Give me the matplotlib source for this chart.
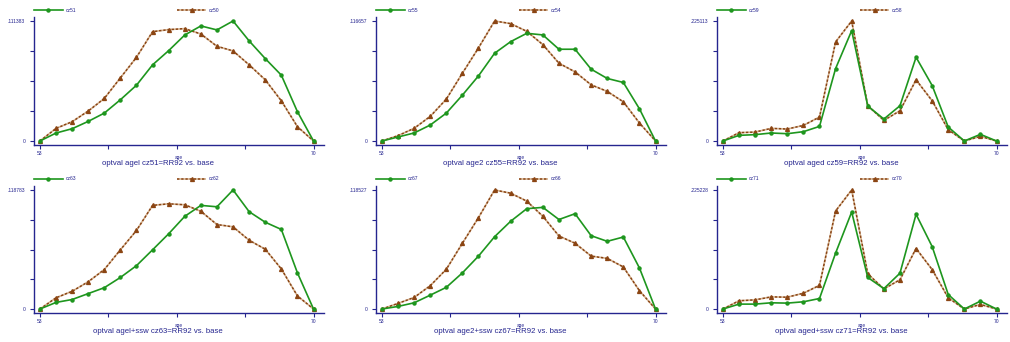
import matplotlib.pyplot as plt

ages = list(range(53, 71))

cz51 = [0, .0074, .0114, .0182, .0259, .0383, .0518, .0707, .0839, .0984, .1068, .1031, .111383, .0929, .0765, .0611, .0272, 0]
cz50 = [0, .0117, .0179, .0278, .0395, .0586, .0777, .1015, .1034, .1043, .0993, .0879, .0836, .0707, .0568, .0373, .0133, 0]
cz55 = [0, .0039, .0078, .0155, .0271, .0446, .0633, .0853, .0966, .1047, .1031, .0892, .0892, .0698, .0608, .0569, .0313, 0]
cz54 = [0, .0052, .0123, .0239, .0407, .0659, .0905, .116657, .1141, .1066, .0937, .0756, .0672, .0546, .0482, .0381, .0175, 0]
cz59 = [0, .0106, .0119, .0150, .0137, .0175, .0274, .1359, .2070, .0655, .0412, .0661, .1571, .1041, .0262, 0, .0125, 0]
cz58 = [0, .0156, .0168, .0237, .0224, .0293, .0449, .1858, .225113, .0661, .0387, .0567, .1147, .0755, .0212, 0, .0087, 0]
cz63 = [0, .0066, .0095, .0154, .0213, .0315, .0433, .0591, .0751, .0925, .1034, .1020, .118783, .0971, .0866, .0794, .0361, 0]
cz62 = [0, .0112, .0177, .0272, .0394, .0591, .0784, .1034, .1050, .1040, .0975, .0843, .0820, .0686, .0597, .0400, .0131, 0]
cz67 = [0, .0026, .0062, .0138, .0216, .0360, .0527, .0720, .0874, .0999, .1012, .0891, .0949, .0730, .0674, .0717, .0409, 0]
cz66 = [0, .0056, .0115, .0232, .0396, .0655, .0910, .118527, .1153, .1074, .0923, .0727, .0655, .0527, .0504, .0419, .0183, 0]
cz71 = [0, .0093, .0093, .0118, .0112, .0137, .0199, .1058, .1835, .0597, .0386, .0678, .1792, .1182, .0274, 0, .0149, 0]
cz70 = [0, .0156, .0174, .0230, .0224, .0299, .0448, .1854, .225228, .0666, .0380, .0554, .1145, .0747, .0212, 0, .0087, 0]

titles = ["optval agel cz51=RR92 vs. base", "optval age2 cz55=RR92 vs. base",
          "optval aged cz59=RR92 vs. base", "optval agel+ssw cz63=RR92 vs. base",
          "optval age2+ssw cz67=RR92 vs. base", "optval aged+ssw cz71=RR92 vs. base"]
green_names = ["cz51", "cz55", "cz59", "cz63", "cz67", "cz71"]
brown_names = ["cz50", "cz54", "cz58", "cz62", "cz66", "cz70"]
greens = [cz51, cz55, cz59, cz63, cz67, cz71]
browns = [cz50, cz54, cz58, cz62, cz66, cz70]

W, H = 1010, 342
navy = "#25258f"
green = "#1e961e"
brown = "#8b4513"
font = "Liberation Sans"

fig = plt.figure(figsize=(W / 100, H / 100), dpi=100)

col_left = [33.5, 375.5, 716.5]
row_top = [17, 186]
row_bot = [145, 313]

for i in range(6):
    r, c = divmod(i, 3)
    left, top, bot = col_left[c], row_top[r], row_bot[r]
    width = 290
    ax = fig.add_axes([left / W, 1 - bot / H, width / W, (bot - top) / H])

    ax.plot(ages, greens[i], color=green, lw=1.2, marker="o", ms=2.2,
            label=green_names[i], zorder=3)
    ax.plot(ages, browns[i], color=brown, lw=1.2, linestyle=(0, (1.5, 1.0)),
            gapcolor="#d8b48c", marker="^", ms=2.8, label=brown_names[i], zorder=2)

    ymax = max(max(greens[i]), max(browns[i]))
    ax.set_ylim(-ymax / 30, ymax * 31 / 30)
    ax.set_xlim(52.6, 70.62)

    xt = [53 + k * 17 / 4 for k in range(5)]
    ax.set_xticks(xt)
    ax.set_xticklabels(["53", "", "", "", "70"])
    yt = [k * ymax / 4 for k in range(5)]
    ax.set_yticks(yt)
    ax.set_yticklabels(["0", "", "", "", f"{ymax:.6f}".lstrip("0")])

    for s in ["top", "right"]:
        ax.spines[s].set_visible(False)
    for s in ["left", "bottom"]:
        ax.spines[s].set_color(navy)
        ax.spines[s].set_linewidth(1.0)
    ax.tick_params(axis="both", colors=navy, length=3, width=0.8, direction="out",
                   labelsize=3.6, labelcolor=navy)
    ax.tick_params(axis="y", pad=3)
    ax.tick_params(axis="x", pad=1)
    for lab in ax.get_xticklabels() + ax.get_yticklabels():
        lab.set_fontfamily(font)

    h = bot - top
    ax.text(0.5, -(12 / h), "age", transform=ax.transAxes, ha="center", va="center",
            fontsize=3.4, color=navy, family=font)
    ax.text(0.43, -(18.5 / h), titles[i], transform=ax.transAxes, ha="center",
            va="center", fontsize=5.6, color=navy, family=font)

    leg = ax.legend(ncol=2, loc="center left", bbox_to_anchor=(0, 1 + 7 / h),
                    frameon=False, handlelength=5.8, handletextpad=0.6,
                    columnspacing=20.2, borderaxespad=0, borderpad=0, numpoints=1,
                    prop={"family": font, "size": 3.6})
    for t in leg.get_texts():
        t.set_color(navy)

fig.savefig("out.png", dpi=100)
